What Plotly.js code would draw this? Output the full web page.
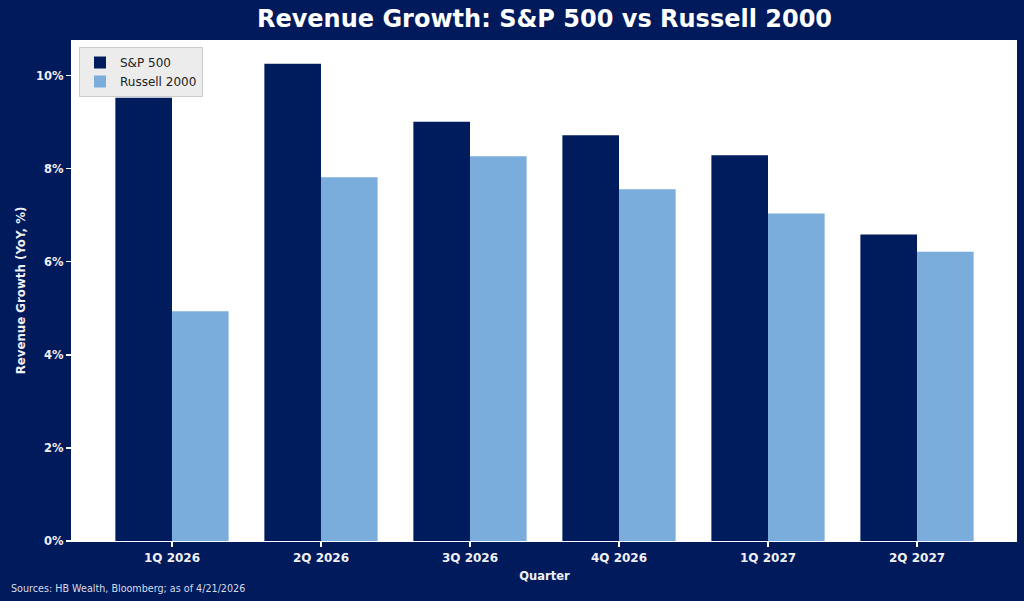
<!DOCTYPE html>
<html>
<head>
<meta charset="utf-8">
<script src="https://cdn.plot.ly/plotly-3.0.1.min.js"></script>
<style>
html,body{margin:0;padding:0;background:#001a5c;}
#chart{width:1024px;height:601px;}
</style>
</head>
<body>
<div id="chart"></div>
<script>
const quarters = ["1Q 2026", "2Q 2026", "3Q 2026", "4Q 2026", "1Q 2027", "2Q 2027"];
const sp500 = [9.53, 10.26, 9.01, 8.72, 8.29, 6.59];
const russell2000 = [4.94, 7.82, 8.27, 7.56, 7.04, 6.22];
const yTicks = [0, 2, 4, 6, 8, 10];
const yTickLabels = ["0%", "2%", "4%", "6%", "8%", "10%"];

const bg = "#001a5c";
const navy = "#001c5c";
const light = "#7aaddb";
const textCol = "#f0f0f4";

const traces = [
  {type: "bar", name: "S&P 500", x: quarters, y: sp500, width: 0.38, offset: -0.38,
   marker: {color: navy, line: {width: 0}}},
  {type: "bar", name: "Russell 2000", x: quarters, y: russell2000, width: 0.38, offset: 0,
   marker: {color: light, line: {width: 0}}}
];

const layout = {
  width: 1024, height: 601,
  paper_bgcolor: bg, plot_bgcolor: "#ffffff",
  margin: {l: 72, r: 7, t: 40, b: 60},
  barmode: "group",
  font: {family: "DejaVu Sans", color: textCol},
  title: {text: "<b>Revenue Growth: S&P 500 vs Russell 2000</b>",
          font: {family: "DejaVu Sans", size: 24, color: "#ffffff"},
          x: 0.5, xanchor: "center", xref: "paper",
          y: 1 - 19/601, yanchor: "middle", yref: "container"},
  xaxis: {type: "category", range: [-0.671, 5.671], showgrid: false, zeroline: false,
          showline: true, linecolor: "#ffffff", linewidth: 1.2,
          ticks: "outside", ticklen: 5, tickwidth: 1.2, tickcolor: "#ffffff",
          tickfont: {family: "DejaVu Sans", size: 12, color: textCol, weight: "bold"},
          title: {text: "<b>Quarter</b>", font: {family: "DejaVu Sans", size: 11.5, color: textCol}, standoff: 8}},
  yaxis: {range: [0, 10.77], tickvals: yTicks, ticktext: yTickLabels, showgrid: false, zeroline: false,
          showline: true, linecolor: "#ffffff", linewidth: 1.2,
          ticks: "outside", ticklen: 5, tickwidth: 1.2, tickcolor: "#ffffff",
          tickfont: {family: "DejaVu Sans", size: 11.5, color: textCol, weight: "bold"},
          title: {text: "<b>Revenue Growth (YoY, %)</b>", font: {family: "DejaVu Sans", size: 11.8, color: textCol}, standoff: 7}},
  showlegend: true,
  legend: {x: 0.0074, y: 0.986, xanchor: "left", yanchor: "top",
           bgcolor: "rgba(235,235,235,0.95)", bordercolor: "#cccccc", borderwidth: 1,
           font: {family: "DejaVu Sans", size: 12, color: "#222222"},
           itemsizing: "constant", tracegroupgap: 0},
  annotations: [
    {text: "Sources: HB Wealth, Bloomberg; as of 4/21/2026", xref: "paper", yref: "paper",
     x: -63/945, y: -(588-541)/501, xanchor: "left", yanchor: "middle", showarrow: false,
     font: {family: "DejaVu Sans", size: 9.6, color: "#d8dce8"}}
  ]
};

Plotly.newPlot("chart", traces, layout, {displayModeBar: false, staticPlot: true});
</script>
</body>
</html>
